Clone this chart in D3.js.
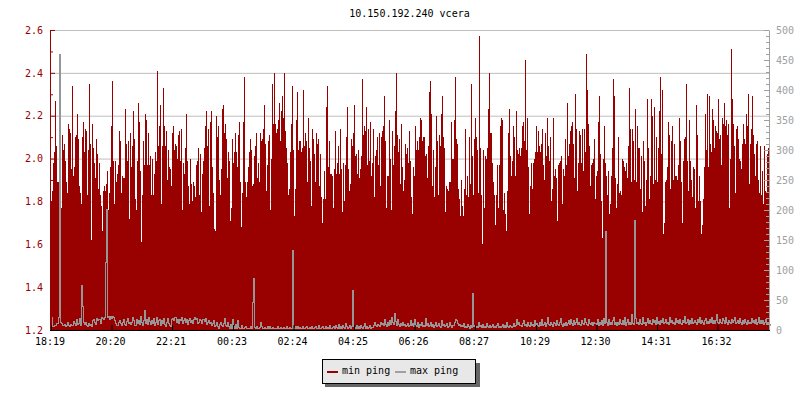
<!DOCTYPE html>
<html><head><meta charset="utf-8">
<script src="https://cdnjs.cloudflare.com/ajax/libs/d3/7.8.5/d3.min.js"></script>
<style>html,body{margin:0;padding:0;background:#fff}svg{display:block}text{font-family:"DejaVu Sans Mono",monospace;font-size:10px}</style>
</head><body><svg id="c" width="800" height="400"></svg>
<script>
const chartTitle = "10.150.192.240 vcera";
const seriesNames = ["min ping", "max ping"];
const timeLabels = ["18:19","20:20","22:21","00:23","02:24","04:25","06:26","08:27","10:29","12:30","14:31","16:32"];
const leftTicks = [1.2,1.4,1.6,1.8,2.0,2.2,2.4,2.6];
const leftMinorTicks = [1.3,1.5,1.7,1.9,2.1,2.3,2.5];
const rightTicks = [0,50,100,150,200,250,300,350,400,450,500];
const rightMinorTicks = [10,20,30,40,60,70,80,90,110,120,130,140,160,170,180,190,210,220,230,240,260,270,280,290,310,320,330,340,360,370,380,390,410,420,430,440,460,470,480,490];
const sampleMinutes = 2;

const minPing = [
1.80,1.85,1.98,2.03,2.27,2.06,1.89,1.89,1.87,1.80,1.77,2.11,2.04,2.07,1.99,1.89,1.84,2.16,2.14,2.12,
1.95,2.34,1.92,1.96,2.10,2.11,2.21,2.09,1.87,1.84,1.79,2.10,2.17,2.03,2.14,2.13,1.83,2.04,2.35,2.07,
1.62,2.16,2.05,1.98,1.91,2.09,2.02,1.86,1.98,1.83,1.78,1.66,1.85,1.87,1.85,1.88,1.94,1.76,1.84,1.96,
2.15,2.36,1.99,1.79,1.99,1.89,1.93,1.97,2.13,2.08,1.84,1.92,1.91,1.91,2.23,2.07,1.99,2.08,1.72,2.12,
1.96,2.06,2.22,2.09,1.81,1.76,1.99,2.26,2.17,1.94,1.61,1.83,2.08,1.97,2.21,2.18,1.97,2.12,1.97,2.01,
1.83,2.00,1.83,1.93,2.03,1.99,2.41,2.06,2.15,2.25,1.79,2.06,2.33,2.15,2.06,2.13,1.90,2.04,1.96,
1.95,1.87,2.12,2.15,2.04,2.07,2.06,2.00,2.11,2.13,1.99,2.14,1.76,1.98,1.93,2.05,2.21,1.99,1.87,1.79,
2.00,1.88,1.80,1.89,1.87,1.82,1.97,1.99,2.05,1.83,2.02,1.75,1.93,1.99,2.05,2.15,2.22,2.06,2.14,1.78,
2.17,2.22,1.96,1.84,1.67,1.66,2.20,2.10,2.15,1.90,1.83,1.95,2.23,2.25,2.12,2.16,2.09,1.91,2.03,1.99,
1.71,1.77,2.09,1.98,2.03,2.12,2.03,1.96,2.11,2.17,1.89,1.68,1.84,2.17,2.38,1.89,1.82,1.89,1.96,2.03,
2.09,2.04,1.87,1.88,2.01,2.06,2.12,1.91,1.98,1.89,2.12,2.08,2.09,2.14,2.25,2.07,1.85,1.97,2.08,2.11,
1.76,2.00,2.35,2.16,2.40,2.16,2.12,2.14,2.18,2.26,2.08,2.22,2.29,2.19,2.40,2.13,2.05,1.98,1.83,1.86,
2.03,2.16,2.34,2.04,1.73,1.86,2.18,2.31,2.04,2.08,2.08,2.03,2.05,2.32,2.06,2.12,2.08,1.89,2.19,2.05,
1.99,1.78,2.14,2.09,2.02,1.89,2.12,2.07,2.09,1.87,2.02,1.82,1.70,1.81,1.94,1.81,2.24,2.34,1.96,2.08,
1.93,1.93,1.92,1.77,1.95,2.13,1.93,1.98,2.06,1.93,2.14,1.95,1.75,1.98,1.80,1.97,2.10,2.24,1.95,1.85,
1.88,2.09,2.06,2.12,2.25,2.01,2.02,1.93,2.04,1.91,1.95,2.01,2.37,2.11,2.15,2.13,2.24,1.97,2.14,1.99,
2.17,1.92,1.98,2.14,1.82,2.01,2.04,2.10,1.97,2.12,1.87,2.10,2.13,2.15,2.29,2.08,1.77,1.92,1.92,2.18,
2.00,1.76,2.13,1.97,2.06,2.22,2.40,2.11,2.03,2.09,1.88,2.16,1.96,1.85,1.90,2.07,2.02,2.05,1.98,2.13,
1.99,1.82,1.74,1.96,1.92,2.15,2.04,2.08,2.04,2.10,2.19,2.18,2.08,2.10,2.10,2.01,2.02,1.91,2.06,2.31,
2.36,2.21,1.87,2.04,1.82,1.96,2.20,2.08,1.83,2.11,2.06,2.21,2.29,2.10,2.05,1.75,1.87,1.86,1.85,1.89,
1.89,2.17,2.00,2.00,2.18,2.38,2.09,2.07,1.86,1.81,1.73,1.90,1.78,1.73,1.86,2.14,1.83,1.92,1.82,2.10,
1.88,2.35,2.01,1.83,2.09,2.19,2.10,2.04,1.84,2.57,2.05,1.83,1.60,2.04,1.77,2.01,2.00,2.05,2.23,2.40,
2.12,2.12,1.98,1.89,1.83,1.69,1.83,1.97,1.77,1.97,2.15,2.19,2.18,1.76,1.84,1.74,1.66,1.85,2.12,2.23,
2.01,1.92,1.99,2.15,2.10,1.92,2.22,2.04,2.02,2.05,2.01,2.05,2.15,2.17,2.08,2.46,2.04,2.19,1.96,1.74,
1.87,1.98,1.86,1.98,2.00,2.03,2.15,2.03,2.13,2.06,2.03,2.07,2.14,1.97,1.90,2.12,2.01,2.19,2.06,1.99,
2.10,1.80,1.86,2.19,1.92,1.95,1.91,1.71,1.97,1.98,1.99,2.01,1.79,1.95,1.92,2.09,1.97,2.26,2.01,2.07,
2.13,2.15,2.17,2.07,1.91,2.30,2.14,1.85,1.98,2.13,2.11,1.98,2.14,1.94,2.14,2.03,2.49,2.32,2.16,2.06,
1.87,1.97,1.98,2.00,2.09,1.81,1.92,1.94,2.17,2.29,2.02,1.80,1.63,2.00,2.15,1.98,1.92,1.83,1.94,1.74,
1.79,1.92,2.05,2.37,2.29,1.91,1.77,1.88,2.10,1.84,1.85,1.83,2.00,1.99,1.96,1.94,1.98,1.91,2.06,2.33,
2.14,1.89,2.14,2.08,1.90,2.23,1.89,2.15,2.05,2.05,1.86,2.01,1.75,2.08,1.99,1.78,1.90,2.28,2.05,1.81,
1.92,2.28,2.20,1.88,2.24,1.90,2.10,1.89,2.05,2.22,2.38,2.02,2.32,1.65,1.70,1.89,1.90,1.96,2.17,2.11,
1.86,2.08,2.15,1.90,2.07,1.92,1.92,1.90,1.97,2.19,2.08,1.89,1.70,1.99,2.09,2.10,2.35,1.99,1.85,2.18,
1.99,1.90,1.82,1.96,1.95,1.77,2.25,2.11,1.80,1.92,1.80,1.65,1.69,1.81,1.96,2.21,2.04,2.30,1.96,2.29,
2.07,2.03,2.23,2.18,2.05,2.15,2.13,2.12,2.28,2.09,2.11,1.97,2.19,2.16,2.26,2.15,2.18,2.11,2.16,1.77,
2.00,2.51,2.28,2.16,2.06,1.84,2.14,2.15,2.09,2.00,1.99,1.95,2.07,2.16,2.09,2.07,2.21,2.15,2.30,1.88,
2.07,2.14,2.29,2.11,2.02,1.92,2.07,2.08,1.90,1.84,2.06,1.83,1.94,1.79,2.06,1.85,1.84,2.02,2.05,2.00
];

const maxPing = [
22,6,6,8,8,11,12,22,460,14,12,8,8,10,6,8,13,9,6,10,
8,9,15,11,8,18,10,12,20,8,75,40,13,10,14,9,7,12,8,10,
6,16,18,14,10,20,16,18,18,12,22,20,18,22,113,202,22,24,18,24,
20,24,22,16,12,8,8,14,16,11,9,13,18,10,8,15,20,12,14,10,
13,22,16,8,9,18,12,16,10,24,14,8,16,34,12,18,10,22,15,10,
16,12,20,8,13,22,10,16,18,8,16,11,20,10,6,14,20,12,8,6,
18,20,16,22,22,14,18,12,18,16,22,12,16,20,14,18,10,16,20,14,
16,12,18,22,18,20,12,14,18,16,12,18,18,15,20,10,14,16,12,14,
8,12,16,6,8,14,6,4,10,14,8,6,12,20,8,6,14,6,4,10,
3,18,6,4,10,3,16,5,3,4,8,4,3,5,6,4,3,4,3,6,
4,47,87,5,3,6,4,3,5,14,6,4,3,5,3,4,6,3,6,4,
3,5,3,4,4,3,6,3,4,5,3,4,5,3,3,6,4,3,5,4,
3,133,4,3,6,4,6,3,5,4,3,6,4,3,5,6,3,4,5,3,
6,4,3,5,6,4,3,8,4,3,5,6,3,4,7,3,5,4,8,3,
4,5,6,4,8,5,3,10,4,6,3,8,5,4,12,6,3,5,9,4,
6,67,7,5,4,9,3,6,4,8,5,3,7,12,4,6,3,5,8,4,
5,5,8,14,8,6,10,8,6,14,10,12,8,18,10,6,14,8,16,10,
22,14,10,28,15,8,18,10,6,12,8,14,8,10,6,8,12,6,9,16,
8,12,6,18,8,6,14,5,10,8,14,6,9,6,20,8,12,6,8,14,
6,10,5,8,14,6,9,12,6,5,16,8,10,6,8,12,5,6,14,8,
5,8,9,14,18,16,12,8,10,6,8,6,12,5,7,5,10,6,4,8,
5,62,6,9,5,7,5,14,6,8,5,10,5,7,5,12,6,5,9,5,
7,10,5,6,5,8,12,5,7,5,6,10,5,8,5,14,6,5,9,7,
5,6,12,6,8,18,10,14,8,9,6,12,16,8,10,6,14,8,6,14,
8,10,6,16,8,12,9,6,14,8,18,8,10,14,6,12,22,10,8,14,
10,6,14,12,8,16,10,8,14,20,10,6,12,8,14,8,12,16,10,18,
12,8,16,10,14,20,10,14,10,8,16,12,10,20,14,10,8,18,12,10,
14,8,14,12,12,10,18,8,14,10,16,8,20,12,165,14,8,18,10,14,
10,16,22,10,13,8,14,10,18,12,10,16,10,22,8,14,18,10,14,10,
26,12,10,183,20,12,14,10,18,12,10,22,12,14,8,14,20,12,16,12,
10,18,14,16,10,22,12,15,10,16,14,20,12,14,18,12,14,10,22,14,
16,12,14,10,20,14,16,12,18,12,10,16,14,24,12,14,18,10,16,12,
20,12,14,16,14,10,18,14,22,12,16,14,10,16,20,12,15,12,18,14,
22,12,16,12,16,26,14,12,18,14,12,20,16,12,22,14,10,16,14,12,
18,14,16,22,12,14,16,12,20,14,10,16,12,18,14,10,16,12,14,12,
20,14,16,12,18,10,14,22,12,16,12,16,10,14,18,12,14,10,10,8
];

const svg = d3.select("#c");
const plot = {l:51, r:770, t:30, b:330};

const toMinutes = s => { const [h,m] = s.split(":").map(Number); return h*60+m; };
const start = toMinutes(timeLabels[0]);
const tickMinutes = timeLabels.map(s => (toMinutes(s)-start+1440)%1440);
const minuteLabel = new Map(tickMinutes.map((m,i)=>[m,timeLabels[i]]));

const x = d3.scaleLinear().domain([0,minPing.length*sampleMinutes]).range([plot.l,plot.r]);
const y = d3.scaleLinear().domain([1.2,2.6]).range([plot.b,plot.t]);
const y2 = d3.scaleLinear().domain([0,500]).range([plot.b,plot.t]);

// horizontal grid, under the marks
const grid = svg.append("g").attr("transform",`translate(${plot.l-1},0)`)
  .call(d3.axisLeft(y).tickValues(leftTicks).tickSize(-(plot.r-plot.l)).tickFormat(""));
grid.select(".domain").remove();
grid.selectAll("line").attr("stroke","#bebebe");

// min ping columns
svg.append("g").attr("shape-rendering","crispEdges").attr("fill","#990000")
  .selectAll("rect").data(minPing).join("rect")
  .attr("x",(d,i)=>Math.round(x(i*sampleMinutes)))
  .attr("width",1)
  .attr("y",d=>y(d))
  .attr("height",d=>y(1.2)-y(d));

// max ping line
const line = d3.line().x((d,i)=>Math.round(x(i*sampleMinutes))+0.5).y(d=>Math.round(y2(d))+0.5).curve(d3.curveStepAfter);
svg.append("path").datum(maxPing).attr("d",line).attr("fill","none")
  .attr("stroke","#969696").attr("stroke-width",1).attr("shape-rendering","crispEdges");

// left axis
const leftG = svg.append("g").attr("transform",`translate(${plot.l-1},0)`)
  .call(d3.axisLeft(y).tickValues(leftTicks).tickSizeInner(-5).tickSizeOuter(0).tickPadding(7).tickFormat(d3.format(".1f")));
leftG.selectAll("line,path").attr("stroke","#990000");
leftG.selectAll("text").attr("fill","#990000").style("font-size","10px");
const leftMinor = svg.append("g").attr("transform",`translate(${plot.l-1},0)`)
  .call(d3.axisLeft(y).tickValues(leftMinorTicks).tickSizeInner(-3).tickSizeOuter(0).tickFormat(""));
leftMinor.select(".domain").remove();
leftMinor.selectAll("line").attr("stroke","#990000");

// right axis
const rightG = svg.append("g").attr("transform",`translate(${plot.r-1},0)`)
  .call(d3.axisRight(y2).tickValues(rightTicks).tickSizeInner(-5).tickSizeOuter(0).tickPadding(7).tickFormat(d3.format("d")));
rightG.selectAll("line,path").attr("stroke","#a0a0a0");
rightG.selectAll("text").attr("fill","#a0a0a0").style("font-size","10px");
const rightMinor = svg.append("g").attr("transform",`translate(${plot.r-1},0)`)
  .call(d3.axisRight(y2).tickValues(rightMinorTicks).tickSizeInner(-3).tickSizeOuter(0).tickFormat(""));
rightMinor.select(".domain").remove();
rightMinor.selectAll("line").attr("stroke","#a0a0a0");

// bottom axis
const xG = svg.append("g").attr("transform",`translate(0,${plot.b})`)
  .call(d3.axisBottom(x).tickValues(tickMinutes).tickSizeInner(-5).tickSizeOuter(0).tickPadding(8).tickFormat(m=>minuteLabel.get(m)));
xG.select(".domain").attr("d",`M${plot.l-1},0.5H${plot.r}`).attr("stroke","#000");
xG.selectAll("line").attr("stroke","#000");
xG.selectAll("text").attr("fill","#000").attr("dx",-1.5).style("font-size","10px");

// title
svg.append("text").attr("x",409.5).attr("y",17).attr("text-anchor","middle").attr("fill","#000").text(chartTitle);

// legend
const lg = svg.append("g").attr("shape-rendering","crispEdges");
lg.append("rect").attr("x",325).attr("y",363).attr("width",155).attr("height",24).attr("fill","#666");
lg.append("rect").attr("x",322.5).attr("y",359.5).attr("width",153).attr("height",24).attr("fill","#e8e8e8").attr("stroke","#000");
[["#990000",327,342],["#a0a0a0",395,410]].forEach(([c,lx,tx],i)=>{
  lg.append("rect").attr("x",lx).attr("y",371).attr("width",11).attr("height",2).attr("fill",c);
  svg.append("text").attr("x",tx).attr("y",374).attr("fill","#000").text(seriesNames[i]);
});
</script></body></html>
